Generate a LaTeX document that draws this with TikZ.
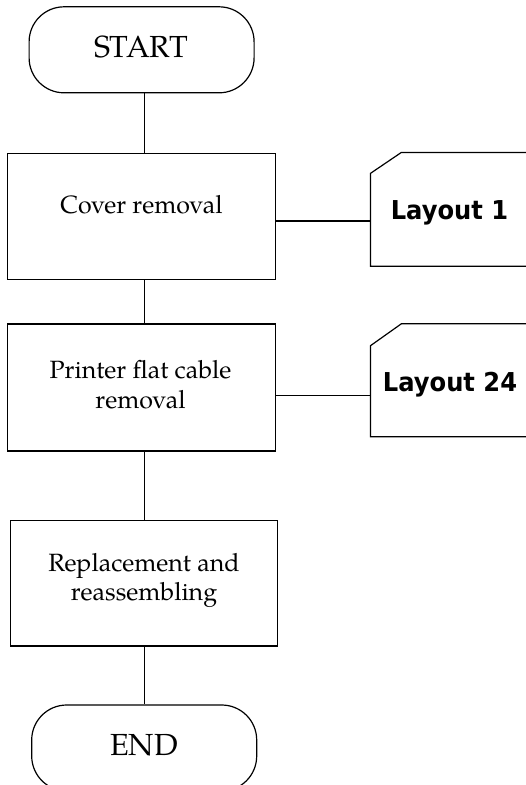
\documentclass[tikz,border=0pt]{standalone}
\usepackage{fontspec}
\setmainfont{TeX Gyre Pagella}
\newfontfamily\layfont[FakeStretch=0.93]{DejaVu Sans}
\begin{document}
\begin{tikzpicture}[x=1pt,y=-1pt,line width=1.2pt,
  term/.style={draw, rounded corners=35pt, minimum width=225pt, minimum height=86pt, inner sep=0pt},
  stepbox/.style={draw, minimum width=268pt, minimum height=126pt, inner sep=0pt},
  termtxt/.style={font=\fontsize{30.5}{36}\selectfont, inner sep=0pt, anchor=base},
  boxtxt/.style={font=\fontsize{25}{29.5}\selectfont, align=center, inner sep=0pt},
  layfrm/.style={inner sep=0pt, minimum width=156pt, minimum height=112pt},
  laytxt/.style={font=\layfont\bfseries\fontsize{26}{30}\selectfont, inner sep=0pt, anchor=base},
  link/.style={draw}]
\useasboundingbox (0,0) rectangle (526,785);
\clip (0,0) rectangle (526,785);
\coordinate (axis) at (144.2,0);
% terminals and steps
\node[term] (start) at (141.6,49.8) {};
\node[termtxt] (startt) at (141,57) {START};
\node[stepbox] (box1) at (141.7,216.5) {};
\node[boxtxt, anchor=base] (box1t) at (141.5,213) {Cover removal};
\node[stepbox, minimum height=127pt] (box2) at (141.7,387.5) {};
\node[boxtxt] (box2t) at (140.5,384.5) {Printer flat cable\\removal};
\node[stepbox, minimum width=267pt, minimum height=125.6pt] (box3) at (144.3,583.2) {};
\node[boxtxt] (box3t) at (144,580.6) {Replacement and\\reassembling};
\node[term] (end) at (144.2,748) {};
\node[termtxt] (endt) at (144,755.6) {END};
% layout references
\node[layfrm, minimum height=112.6pt] (l1) at (449,209.3) {};
\draw (l1.north east) -- ([xshift=31pt]l1.north west) -- ([yshift=-21pt]l1.north west) -- (l1.south west) -- (l1.south east);
\node[laytxt] (l1t) at (449.5,219) {Layout 1};
\node[layfrm, minimum height=111.7pt] (l24) at (449,380.2) {};
\draw (l24.north east) -- ([xshift=31pt]l24.north west) -- ([yshift=-22pt]l24.north west) -- (l24.south west) -- (l24.south east);
\node[laytxt] (l24t) at (450,391.7) {Layout 24};
% connectors
\draw[link] (start.south -| axis) -- (box1.north -| axis);
\draw[link] (box1.south -| axis) -- (box2.north -| axis);
\draw[link] (box2.south -| axis) -- (box3.north -| axis);
\draw[link] (box3.south -| axis) -- (end.north -| axis);
\draw[link] ([yshift=-4.5pt]box1.east) -- ([yshift=-4.5pt]box1.east -| l1.west);
\draw[link] ([yshift=-8.2pt]box2.east) -- ([yshift=-8.2pt]box2.east -| l24.west);
\end{tikzpicture}
\end{document}
